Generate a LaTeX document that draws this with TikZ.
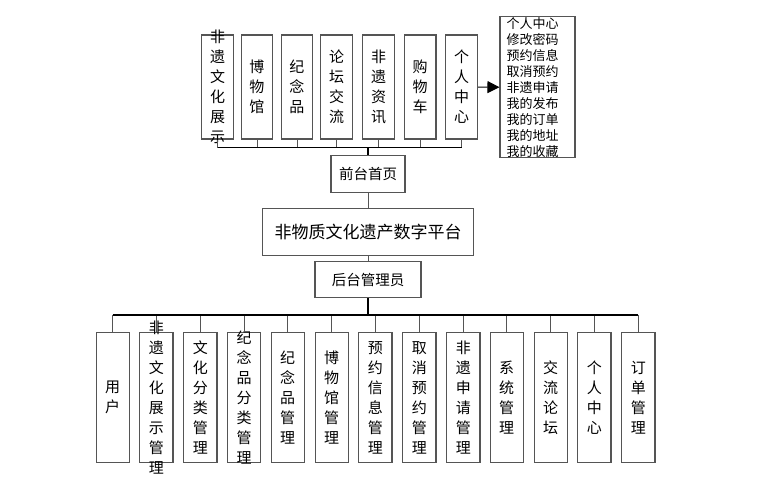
\documentclass[tikz,border=0pt]{standalone}
\usepackage{fontspec}
\setmainfont{Noto Sans CJK SC}
\usetikzlibrary{arrows.meta}
\definecolor{linegray}{RGB}{85,85,85}

\begin{document}
\begin{tikzpicture}[x=1pt,y=-1pt,
  box/.style={draw=linegray,line width=1.1pt,minimum width=31.6pt,minimum height=104pt,inner sep=0pt},
  lowbox/.style={box,minimum width=33.3pt,minimum height=130pt},
  vtext/.style={align=center,font=\fontsize{15}{20}\selectfont,inner sep=0pt},
  hbox/.style={draw=linegray,line width=1.1pt,inner sep=0pt},
  link/.style={linegray,line width=0.8pt},
  bus/.style={black,line width=1.2pt},
  stub/.style={black,line width=2.5pt},
]
  \useasboundingbox (0,0) rectangle (784,480);

  % front end modules
  \node[box,label={[vtext]center:{非\\遗\\文\\化\\展\\示}}] (f1) at (217.5,87) {};
  \node[box,label={[vtext]center:{博\\物\\馆}}] (f2) at (256.9,87) {};
  \node[box,label={[vtext]center:{纪\\念\\品}}] (f3) at (296.9,87) {};
  \node[box,label={[vtext]center:{论\\坛\\交\\流}}] (f4) at (336.5,87) {};
  \node[box,label={[vtext]center:{非\\遗\\资\\讯}}] (f5) at (378.5,87) {};
  \node[box,label={[vtext]center:{购\\物\\车}}] (f6) at (420.2,87) {};
  \node[box,label={[vtext]center:{个\\人\\中\\心}}] (f7) at (461.7,87) {};

  \node[hbox,minimum width=75pt,minimum height=141pt] (pc) at (537.5,87.2) {};
  \node[anchor=west,align=left,inner sep=0pt,font=\fontsize{13}{16}\selectfont] (pclist) at ([xshift=7pt]pc.west) {%
    个人中心\\修改密码\\预约信息\\取消预约\\非遗申请\\我的发布\\我的订单\\我的地址\\我的收藏};

  \node[hbox,minimum width=74pt,minimum height=36.6pt,font=\fontsize{14.5}{17}\selectfont] (front) at (368,174) {前台首页};
  \node[hbox,minimum width=210.6pt,minimum height=46.7pt,font=\fontsize{17}{20}\selectfont] (platform) at (368,231.7) {非物质文化遗产数字平台};
  \node[hbox,minimum width=106pt,minimum height=36pt,font=\fontsize{14.5}{17}\selectfont] (admin) at (368,279.7) {后台管理员};

  % back end modules
  \node[lowbox,label={[vtext]center:{用\\户}}] (b1) at (112.7,397.7) {};
  \node[lowbox,label={[vtext]center:{非\\遗\\文\\化\\展\\示\\管\\理}}] (b2) at (156.3,397.7) {};
  \node[lowbox,label={[vtext]center:{文\\化\\分\\类\\管\\理}}] (b3) at (200.3,397.7) {};
  \node[lowbox,label={[vtext]center:{纪\\念\\品\\分\\类\\管\\理}}] (b4) at (244,397.7) {};
  \node[lowbox,label={[vtext]center:{纪\\念\\品\\管\\理}}] (b5) at (287.7,397.7) {};
  \node[lowbox,label={[vtext]center:{博\\物\\馆\\管\\理}}] (b6) at (331.7,397.7) {};
  \node[lowbox,label={[vtext]center:{预\\约\\信\\息\\管\\理}}] (b7) at (375.3,397.7) {};
  \node[lowbox,label={[vtext]center:{取\\消\\预\\约\\管\\理}}] (b8) at (419.3,397.7) {};
  \node[lowbox,label={[vtext]center:{非\\遗\\申\\请\\管\\理}}] (b9) at (463.3,397.7) {};
  \node[lowbox,label={[vtext]center:{系\\统\\管\\理}}] (b10) at (506.7,397.7) {};
  \node[lowbox,label={[vtext]center:{交\\流\\论\\坛}}] (b11) at (550.7,397.7) {};
  \node[lowbox,label={[vtext]center:{个\\人\\中\\心}}] (b12) at (594.3,397.7) {};
  \node[lowbox,label={[vtext]center:{订\\单\\管\\理}}] (b13) at (638.3,397.7) {};

  \coordinate (topbus) at (368,147.7);
  \coordinate (lowbus) at (368,315);

  % connectors
  \foreach \n in {f1,f2,f3,f4,f5,f6,f7}
    \draw[link] (\n.south) -- (\n.south |- topbus);
  \draw[bus] (f1.south |- topbus) -- (f7.south |- topbus);
  \draw[stub] (topbus) -- (front.north);
  \draw[link] (front.south) -- (platform.north);
  \draw[link] (platform.south) -- (admin.north);
  \draw[stub] (admin.south) -- (lowbus);
  \foreach \n in {b1,b2,b3,b4,b5,b6,b7,b8,b9,b10,b11,b12,b13}
    \draw[link] (\n.north) -- (\n.north |- lowbus);
  \draw[bus] (b1.north |- lowbus) -- (b13.north |- lowbus);
  \draw[-{Triangle[length=12pt,width=12pt]},line width=1pt] (f7.east) -- (pc.west);
\end{tikzpicture}
\end{document}
